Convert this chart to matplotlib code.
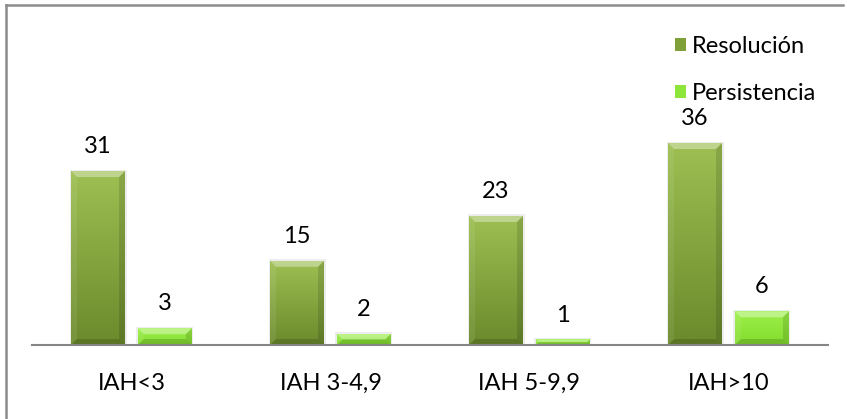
import numpy as np
import matplotlib
matplotlib.use("Agg")
import matplotlib.pyplot as plt
from matplotlib.patches import Polygon, Rectangle
from matplotlib.colors import to_rgb
from matplotlib.lines import Line2D

# Data
categorias = ["IAH<3", "IAH 3-4,9", "IAH 5-9,9", "IAH>10"]
resolucion = [31, 15, 23, 36]
persistencia = [3, 2, 1, 6]
series = ["Resolución", "Persistencia"]

plt.rcParams["font.family"] = ["Lato", "DejaVu Sans"]
FS = 17

W, H = 847, 419
fig = plt.figure(figsize=(W / 100, H / 100), dpi=100)
fig.patch.set_facecolor("white")

ax = fig.add_axes([32 / W, (H - 345) / H, (828 - 32) / W, 224.4 / H])
ax.set_xlim(-0.5, 3.5)
ax.set_ylim(0, 40)

x = np.arange(len(categorias))
bw = 0.271
off = 0.168

# (top colour, bottom colour) for the vertical fill of each series
fills = {
    "Resolución": ("#9dbf52", "#6b8a2c"),
    "Persistencia": ("#9cf04a", "#84dc2e"),
}
legend_colors = {"Resolución": "#7f9f38", "Persistencia": "#8fe63a"}

bars_res = ax.bar(x - off, resolucion, bw, color=legend_colors["Resolución"], zorder=2)
bars_per = ax.bar(x + off, persistencia, bw, color=legend_colors["Persistencia"], zorder=2)

fig.canvas.draw()
bb = ax.get_window_extent()
px_x = (ax.get_xlim()[1] - ax.get_xlim()[0]) / bb.width
px_y = (ax.get_ylim()[1] - ax.get_ylim()[0]) / bb.height


def bevel(bars, name):
    top_c, bot_c = (np.array(to_rgb(c)) for c in fills[name])
    for p in bars:
        x0, y0 = p.get_x(), p.get_y()
        w, h = p.get_width(), p.get_height()
        x1, y1 = x0 + w, y0 + h
        # soft shadow behind the bar
        sx, sy = 1.5 * px_x, 1.5 * px_y
        ax.add_patch(Rectangle((x0 - sx, y0), w + 2 * sx, h + sy, facecolor="black",
                               alpha=0.07, edgecolor="none", zorder=1.9))
        # vertical gradient clipped to the bar
        t = np.linspace(0, 1, 64)[:, None]
        grad = top_c[None, :] * (1 - t) + bot_c[None, :] * t
        img = ax.imshow(grad[:, None, :], extent=[x0, x1, y0, y1],
                        aspect="auto", zorder=2.1, interpolation="bilinear")
        img.set_clip_path(p)
        h_px = h / px_y
        b = min(6.0, h_px / 2.0)
        bx, by = b * px_x, b * px_y
        polys = [
            ([(x0, y1), (x1, y1), (x1 - bx, y1 - by), (x0 + bx, y1 - by)], "white", 0.35),
            ([(x0, y0), (x0, y1), (x0 + bx, y1 - by), (x0 + bx, y0 + by)], "white", 0.08),
            ([(x1, y0), (x1, y1), (x1 - bx, y1 - by), (x1 - bx, y0 + by)], "black", 0.12),
            ([(x0, y0), (x1, y0), (x1 - bx, y0 + by), (x0 + bx, y0 + by)], "black", 0.15),
        ]
        for pts, c, a in polys:
            ax.add_patch(Polygon(pts, closed=True, facecolor=c, alpha=a,
                                 edgecolor="none", zorder=2.2))
        ax.annotate(f"{int(h)}", xy=(x0 + w / 2, y1), xytext=(0, 10),
                    textcoords="offset points", ha="center", va="bottom",
                    fontsize=FS, color="black")


bevel(bars_res, "Resolución")
bevel(bars_per, "Persistencia")
ax.set_xlim(-0.5, 3.5)
ax.set_ylim(0, 40)

for s in ["top", "right", "left"]:
    ax.spines[s].set_visible(False)
ax.spines["bottom"].set_color("#868686")
ax.spines["bottom"].set_linewidth(1.5)
ax.spines["bottom"].set_zorder(3)
ax.set_yticks([])
ax.set_xticks(x)
ax.set_xticklabels(categorias, fontsize=FS)
ax.tick_params(axis="x", length=0, pad=20)
ax.patch.set_alpha(0)

handles = [Rectangle((0, 0), 1, 1, facecolor=legend_colors[s], edgecolor="none") for s in series]
fig.legend(handles, series, loc="center left", bbox_to_anchor=(675 / W, 1 - 70 / H),
           frameon=False, fontsize=FS, handlelength=0.47, handleheight=0.47,
           handletextpad=0.25, labelspacing=1.12, borderpad=0, borderaxespad=0)

# chart border
fig.add_artist(Line2D([6 / W, 843 / W], [1 - 5 / H, 1 - 5 / H], color="#8c8c8c",
                      lw=1.8, transform=fig.transFigure))
fig.add_artist(Line2D([6 / W, 6 / W], [1 - 5 / H, 0], color="#8c8c8c",
                      lw=1.8, transform=fig.transFigure))

fig.savefig("out.png", dpi=100)
